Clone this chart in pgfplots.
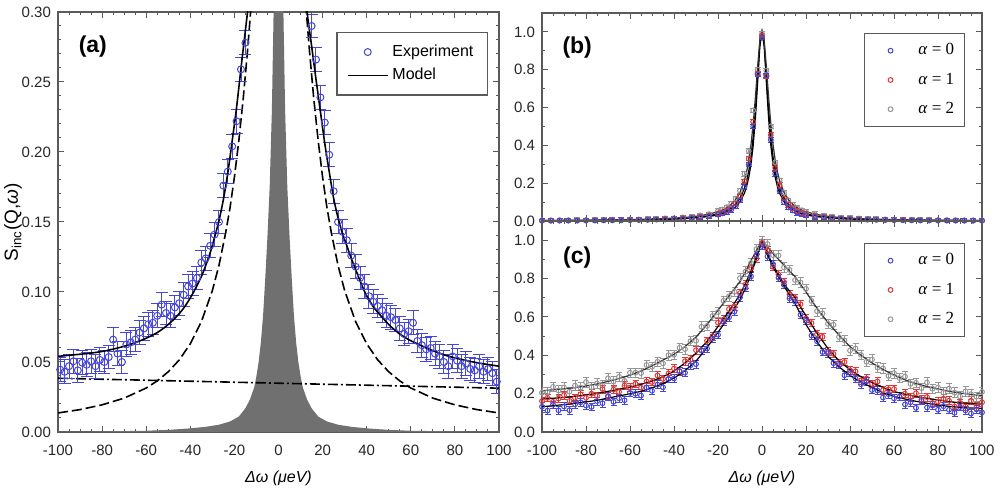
\documentclass[border=0pt]{standalone}
\usepackage{fontspec}
\setmainfont{Liberation Sans}
\newfontfamily\seriffont{Liberation Serif}
\usepackage{pgfplots}
\pgfplotsset{compat=1.18}
\usepackage{pgfplotstable}

\definecolor{expblue}{RGB}{70,70,215}
\definecolor{ared}{RGB}{225,55,55}
\definecolor{agray}{RGB}{150,150,150}
\definecolor{resgray}{RGB}{112,112,112}
\definecolor{framegray}{RGB}{90,90,90}

\pgfplotsset{
  myaxis/.style={
    scale only axis,
    axis line style={framegray, line width=0.7pt},
    every tick/.style={framegray, line width=0.5pt},
    major tick length=3pt, minor tick length=1.6pt,
    tick align=inside,
    xmin=-100, xmax=100,
    xtick={-100,-80,-60,-40,-20,0,20,40,60,80,100},
    minor x tick num=3,
    tick label style={font=\fontsize{7.5}{9}\selectfont, text=black!85},
    /pgf/number format/assume math mode=true,
    xticklabel style={yshift=-2.8pt},
    clip=true,
  },
  smallmark/.style={
    legend image code/.code={\draw[##1, draw=none] (0cm,0cm) -- (0.77cm,0cm);
      \draw[##1, only marks] plot coordinates {(0.35cm,0cm)};}
  },
  bigmark/.style={
    legend image code/.code={\draw[##1, draw=none] (0cm,0cm) -- (0.7cm,0cm);
      \draw[##1, only marks] plot coordinates {(0.35cm,0cm)};}
  },
  linelegend/.style={
    legend image code/.code={\draw[##1] (0cm,0cm) -- (0.7cm,0cm);}
  }
}

% ---------- panel (a) ----------
\pgfplotstableread{
x y
-99 0.0445
-97 0.0430
-95 0.0470
-93 0.0505
-91 0.0440
-89 0.0495
-87 0.0480
-85 0.0505
-83 0.0470
-81 0.0515
-79 0.0500
-77 0.0535
-75 0.0660
-73 0.0560
-71 0.0500
-69 0.0625
-67 0.0640
-65 0.0660
-63 0.0710
-61 0.0740
-59 0.0770
-57 0.0780
-55 0.0830
-53 0.0910
-51 0.0850
-49 0.0830
-47 0.0890
-45 0.0920
-43 0.0980
-41 0.1040
-39 0.1060
-37 0.1100
-35 0.1210
-33 0.1240
-31 0.1330
-29 0.1410
-27 0.1500
-25 0.1760
-23 0.1860
-21 0.2040
-19 0.2220
-17 0.2590
-15 0.2780
15 0.290
17 0.266
19 0.239
21 0.221
23 0.198
25 0.172
27 0.150
29 0.143
31 0.137
33 0.126
35 0.118
37 0.110
39 0.104
41 0.097
43 0.093
45 0.090
47 0.087
49 0.083
51 0.082
53 0.080
55 0.074
57 0.070
59 0.072
61 0.078
63 0.065
65 0.062
67 0.059
69 0.060
71 0.056
73 0.054
75 0.050
77 0.047
79 0.054
81 0.051
83 0.047
85 0.049
87 0.045
89 0.044
91 0.047
93 0.043
95 0.045
97 0.042
99 0.036
}\expdata

\pgfplotstableread{
x y
-100 0.0002
-80 0.0004
-60 0.0009
-50 0.0015
-40 0.0026
-33 0.0037
-27 0.0052
-22 0.0075
-18 0.011
-15 0.017
-13 0.023
-11 0.032
-10 0.040
-9 0.050
-8 0.064
-7 0.083
-6 0.110
-5 0.140
-4 0.175
-3 0.230
-2 0.320
-1 0.600
0 1.200
1 0.600
2 0.320
3 0.230
4 0.175
5 0.140
6 0.110
7 0.083
8 0.064
9 0.050
10 0.040
11 0.032
13 0.023
15 0.017
18 0.011
22 0.0075
27 0.0052
33 0.0037
40 0.0026
50 0.0015
60 0.0009
80 0.0004
100 0.0002
}\resdata

% ---------- panel (b) ----------
\pgfplotstableread{
x d0 d1 d2
-100 0.0015 0.0028 0.0035
-96 0.0024 0.0018 0.0024
-92 0.0018 0.0030 0.0040
-88 0.0028 0.0024 0.0031
-84 0.0020 0.0035 0.0045
-80 0.0033 0.0030 0.0038
-76 0.0026 0.0042 0.0055
-72 0.0040 0.0036 0.0047
-68 0.0033 0.0050 0.0066
-64 0.0048 0.0046 0.0060
-60 0.0042 0.0065 0.0082
-56 0.0060 0.0060 0.0078
-52 0.0058 0.0082 0.0105
-48 0.0078 0.0080 0.0104
-44 0.0080 0.0108 0.0140
-40 0.0105 0.0112 0.0145
-36 0.0115 0.0150 0.0190
-32 0.0158 0.0160 0.0210
-28 0.0180 0.0235 0.0295
-24 0.0250 0.0270 0.0360
-20 0.034 0.040 0.052
-18 0.040 0.046 0.060
-16 0.048 0.057 0.073
-14 0.060 0.071 0.091
-12 0.078 0.092 0.118
-10 0.110 0.130 0.160
-8 0.180 0.210 0.250
-6 0.300 0.330 0.370
-4 0.500 0.525 0.585
-2 0.775 0.780 0.800
0 0.970 0.980 0.990
2 0.770 0.765 0.795
4 0.430 0.455 0.500
6 0.250 0.280 0.310
8 0.160 0.190 0.215
10 0.100 0.120 0.150
12 0.072 0.086 0.110
14 0.056 0.068 0.086
16 0.044 0.054 0.069
18 0.036 0.043 0.057
20 0.030 0.037 0.048
24 0.0225 0.0275 0.0365
28 0.0185 0.0215 0.0275
32 0.0140 0.0172 0.0222
36 0.0118 0.0135 0.0178
40 0.0095 0.0122 0.0150
44 0.0084 0.0098 0.0132
48 0.0070 0.0089 0.0110
52 0.0062 0.0073 0.0099
56 0.0053 0.0068 0.0083
60 0.0047 0.0056 0.0076
64 0.0041 0.0053 0.0064
68 0.0037 0.0043 0.0060
72 0.0032 0.0042 0.0050
76 0.0030 0.0035 0.0048
80 0.0026 0.0034 0.0041
84 0.0025 0.0029 0.0040
88 0.0022 0.0028 0.0034
92 0.0020 0.0025 0.0034
96 0.0019 0.0024 0.0029
100 0.0017 0.0021 0.0029
}\bdata

\pgfplotstableread{
x m0 m1 m2
-100 0.0018 0.0022 0.0028
-96 0.0020 0.0024 0.0030
-92 0.0021 0.0026 0.0033
-88 0.0023 0.0028 0.0036
-84 0.0026 0.0030 0.0039
-80 0.0028 0.0033 0.0043
-76 0.0031 0.0037 0.0047
-72 0.0034 0.0041 0.0052
-68 0.0038 0.0045 0.0058
-64 0.0043 0.0051 0.0066
-60 0.0048 0.0058 0.0074
-56 0.0055 0.0066 0.0085
-52 0.0063 0.0075 0.0097
-48 0.0073 0.0087 0.0112
-44 0.0085 0.0100 0.0130
-40 0.0100 0.0120 0.0153
-36 0.0120 0.0140 0.0180
-32 0.0150 0.0170 0.0220
-28 0.0190 0.0220 0.0280
-24 0.0240 0.0280 0.0370
-20 0.032 0.038 0.049
-18 0.038 0.044 0.058
-16 0.046 0.055 0.070
-14 0.058 0.069 0.088
-12 0.075 0.088 0.113
-10 0.102 0.120 0.151
-8 0.147 0.172 0.214
-7 0.182 0.212 0.260
-6 0.231 0.266 0.322
-5 0.301 0.341 0.405
-4 0.400 0.446 0.515
-3 0.542 0.588 0.655
-2 0.729 0.766 0.815
-1 0.921 0.937 0.956
0 1.000 1.000 1.000
1 0.921 0.937 0.956
2 0.729 0.766 0.815
3 0.542 0.588 0.655
4 0.400 0.446 0.515
5 0.301 0.341 0.405
6 0.231 0.266 0.322
7 0.182 0.212 0.260
8 0.147 0.172 0.214
10 0.102 0.120 0.151
12 0.075 0.088 0.113
14 0.058 0.069 0.088
16 0.046 0.055 0.070
18 0.038 0.044 0.058
20 0.032 0.038 0.049
24 0.0240 0.0280 0.0370
28 0.0190 0.0220 0.0280
32 0.0150 0.0170 0.0220
36 0.0120 0.0140 0.0180
40 0.0100 0.0120 0.0153
44 0.0085 0.0100 0.0130
48 0.0073 0.0087 0.0112
52 0.0063 0.0075 0.0097
56 0.0055 0.0066 0.0085
60 0.0048 0.0058 0.0074
64 0.0043 0.0051 0.0066
68 0.0038 0.0045 0.0058
72 0.0034 0.0041 0.0052
76 0.0031 0.0037 0.0047
80 0.0028 0.0033 0.0043
84 0.0026 0.0030 0.0039
88 0.0023 0.0028 0.0036
92 0.0021 0.0026 0.0033
96 0.0020 0.0024 0.0030
100 0.0018 0.0022 0.0028
}\bmodel

% ---------- panel (c) ----------
\pgfplotstableread{
x m0 d0 m1 d1 m2 d2
-100 0.132 0.132 0.172 0.161 0.215 0.205
-97.5 0.1345 0.1115 0.174 0.178 0.2175 0.2075
-95 0.137 0.142 0.176 0.157 0.220 0.235
-92.5 0.140 0.113 0.178 0.174 0.2225 0.2165
-90 0.143 0.133 0.180 0.192 0.225 0.232
-87.5 0.1465 0.1135 0.183 0.162 0.228 0.210
-85 0.150 0.144 0.186 0.178 0.231 0.242
-82.5 0.1535 0.1545 0.1895 0.1965 0.2355 0.2315
-80 0.157 0.138 0.193 0.178 0.240 0.260
-77.5 0.161 0.131 0.197 0.200 0.245 0.233
-75 0.165 0.161 0.201 0.189 0.250 0.253
-72.5 0.171 0.150 0.2065 0.2235 0.257 0.242
-70 0.177 0.184 0.212 0.188 0.264 0.280
-67.5 0.1825 0.1575 0.217 0.221 0.2715 0.2635
-65 0.188 0.176 0.222 0.209 0.279 0.288
-62.5 0.1935 0.1655 0.228 0.242 0.2875 0.2665
-60 0.199 0.204 0.234 0.232 0.296 0.309
-57.5 0.2055 0.1995 0.241 0.251 0.307 0.309
-55 0.212 0.190 0.248 0.231 0.318 0.307
-52.5 0.221 0.231 0.257 0.263 0.3315 0.3495
-50 0.230 0.215 0.266 0.261 0.345 0.340
-47.5 0.241 0.247 0.277 0.295 0.360 0.366
-45 0.252 0.233 0.288 0.277 0.375 0.358
-42.5 0.267 0.277 0.303 0.305 0.390 0.400
-40 0.282 0.279 0.318 0.331 0.405 0.403
-37.5 0.300 0.317 0.339 0.318 0.425 0.439
-35 0.320 0.309 0.360 0.369 0.445 0.432
-32.5 0.344 0.348 0.385 0.377 0.470 0.474
-30 0.370 0.354 0.410 0.426 0.495 0.476
-27.5 0.404 0.425 0.441 0.426 0.527 0.549
-25 0.440 0.435 0.472 0.475 0.560 0.553
-22.5 0.480 0.488 0.511 0.499 0.597 0.605
-20 0.520 0.507 0.550 0.570 0.635 0.625
-17.5 0.560 0.574 0.590 0.586 0.672 0.684
-15 0.600 0.598 0.630 0.641 0.710 0.707
-12.5 0.645 0.628 0.673 0.655 0.747 0.731
-10 0.690 0.702 0.717 0.724 0.785 0.802
-7.5 0.750 0.751 0.775 0.769 0.835 0.836
-5 0.820 0.811 0.840 0.855 0.895 0.881
-2.5 0.905 0.924 0.915 0.905 0.945 0.954
0 1.000 0.970 1.000 0.985 1.000 0.994
2.5 0.925 0.915 0.930 0.949 0.965 0.980
5 0.860 0.875 0.870 0.861 0.930 0.922
7.5 0.810 0.804 0.820 0.821 0.900 0.920
10 0.760 0.767 0.770 0.782 0.870 0.858
12.5 0.715 0.697 0.735 0.718 0.840 0.845
15 0.670 0.681 0.700 0.698 0.810 0.792
17.5 0.615 0.611 0.652 0.666 0.770 0.779
20 0.560 0.580 0.605 0.592 0.730 0.746
22.5 0.515 0.503 0.560 0.568 0.687 0.683
25 0.470 0.473 0.515 0.510 0.645 0.630
27.5 0.432 0.417 0.475 0.496 0.607 0.618
30 0.395 0.411 0.435 0.419 0.570 0.564
32.5 0.367 0.359 0.403 0.407 0.537 0.559
35 0.340 0.349 0.372 0.361 0.505 0.495
37.5 0.317 0.296 0.348 0.365 0.475 0.478
40 0.295 0.308 0.325 0.322 0.445 0.425
42.5 0.277 0.279 0.306 0.316 0.422 0.435
45 0.260 0.249 0.288 0.269 0.400 0.402
47.5 0.246 0.264 0.273 0.279 0.380 0.366
50 0.232 0.219 0.258 0.251 0.360 0.378
52.5 0.218 0.216 0.245 0.263 0.343 0.336
55 0.205 0.180 0.232 0.218 0.326 0.332
57.5 0.195 0.197 0.221 0.223 0.3115 0.2925
60 0.185 0.175 0.211 0.224 0.297 0.307
62.5 0.1785 0.1845 0.204 0.184 0.2845 0.2815
65 0.172 0.144 0.197 0.200 0.272 0.289
67.5 0.166 0.155 0.191 0.181 0.262 0.251
70 0.160 0.126 0.185 0.202 0.252 0.256
72.5 0.155 0.162 0.1805 0.1695 0.2445 0.2285
75 0.150 0.128 0.176 0.182 0.237 0.258
77.5 0.1455 0.1385 0.1715 0.1515 0.2305 0.2255
80 0.141 0.116 0.167 0.158 0.224 0.232
82.5 0.1375 0.1345 0.163 0.174 0.218 0.205
85 0.134 0.116 0.159 0.163 0.212 0.226
87.5 0.131 0.100 0.1555 0.1325 0.2075 0.2055
90 0.128 0.130 0.152 0.152 0.203 0.186
92.5 0.1265 0.1125 0.150 0.133 0.1995 0.2115
95 0.125 0.096 0.148 0.163 0.196 0.197
97.5 0.124 0.118 0.1465 0.1335 0.193 0.184
100 0.123 0.102 0.145 0.155 0.190 0.209
}\cdata

\begin{document}
\begin{tikzpicture}
\useasboundingbox (0,0) rectangle (500pt,246pt);

% ================= (a) =================
\begin{axis}[myaxis,
  at={(29pt,30pt)}, anchor=south west,
  width=220.5pt, height=210pt,
  ymin=0, ymax=0.30,
  ytick={0,0.05,0.10,0.15,0.20,0.25,0.30},
  minor y tick num=4,
  yticklabel style={/pgf/number format/.cd, fixed, fixed zerofill, precision=2},
  xlabel={\textit{Δω (μeV)}},
  xlabel style={font=\fontsize{8}{9}\selectfont, at={(axis description cs:0.5,-0.1095)}, anchor=center},
  ylabel={S\textsubscript{inc}(Q,\textit{ω})},
  ylabel style={font=\fontsize{9.5}{11}\selectfont, at={(axis description cs:-0.102,0.5)}, anchor=center},
  legend style={at={(axis description cs:0.975,0.952)}, anchor=north east,
    draw=framegray, line width=0.6pt, font=\fontsize{8}{9.5}\selectfont,
    inner xsep=5pt, inner ysep=4pt, row sep=0.5pt,
    cells={anchor=west, inner ysep=1pt}},
]
\addplot[fill=resgray, draw=none, forget plot] table[x=x,y=y] {\resdata} \closedcycle;
\addplot[black, line width=0.8pt, dash pattern=on 5pt off 1.5pt on 1pt off 1.5pt, forget plot]
  coordinates {(-100,0.0384) (100,0.0313)};
\addplot[black, line width=0.8pt, dash pattern=on 5pt off 2pt, forget plot] coordinates {
(-100,0.0136) (-90,0.0160) (-80,0.0194) (-70,0.0242) (-60,0.0314) (-55,0.0365) (-50,0.0430)
(-45,0.0515) (-40,0.0630) (-35,0.0787) (-30,0.1010) (-27,0.1190) (-24,0.1420) (-22,0.1600)
(-20,0.1820) (-18,0.2080) (-16,0.2380) (-14,0.2730) (-13,0.2930) (-12,0.3140) (-11,0.3360)};
\addplot[black, line width=0.8pt, dash pattern=on 5pt off 2pt, forget plot] coordinates {
(11,0.3360) (12,0.3140) (13,0.2930) (14,0.2730) (16,0.2380) (18,0.2080) (20,0.1820) (22,0.1600)
(24,0.1420) (27,0.1190) (30,0.1010) (35,0.0787) (40,0.0630) (45,0.0515) (50,0.0430)
(55,0.0365) (60,0.0314) (70,0.0242) (80,0.0194) (90,0.0160) (100,0.0136)};
\addplot[only marks, mark=o, mark size=1.75pt, expblue, mark options={line width=0.5pt}, bigmark,
  error bars/.cd, y dir=both, y fixed=0.0085,
  error bar style={line width=0.5pt, expblue},
  error mark options={rotate=90, mark size=3pt, line width=0.5pt, expblue}]
  table[x=x,y=y] {\expdata};
\addlegendentry{Experiment}
\addplot[black, line width=0.8pt, smooth, linelegend] coordinates {
(-100,0.0540) (-97,0.0545) (-95,0.0548) (-91,0.0554) (-87,0.0560) (-83,0.0568) (-79,0.0578)
(-75,0.0592) (-71,0.0608) (-67,0.0627) (-63,0.0650) (-59,0.0677) (-55,0.0710) (-51,0.0755)
(-47,0.0812) (-43,0.0885) (-39,0.0985) (-35,0.1110) (-33,0.1190) (-31,0.1280) (-29,0.1390)
(-27,0.1510) (-25,0.1660) (-23,0.1850) (-21,0.2080) (-19,0.2320) (-17,0.2600) (-15,0.2870)
(-13,0.3150) (-11,0.3500)};
\addlegendentry{Model}
\addplot[black, line width=0.8pt, smooth, forget plot] coordinates {
(11,0.340) (13,0.300) (15,0.276) (17,0.252) (19,0.229) (21,0.206) (23,0.186) (25,0.167)
(27,0.153) (29,0.142) (31,0.133) (33,0.124) (35,0.116) (37,0.108) (39,0.1005) (41,0.0945)
(43,0.0895) (45,0.0855) (47,0.0820) (49,0.0785) (51,0.0752) (55,0.0700) (59,0.0660)
(63,0.0630) (67,0.0600) (71,0.0575) (75,0.0552) (79,0.0533) (83,0.0518) (87,0.0504)
(91,0.0492) (95,0.0482) (100,0.0470)};
\node[font=\bfseries\fontsize{11.5}{12}\selectfont] at (axis description cs:0.079,0.917) {(a)};
\end{axis}

% ================= (b) =================
\begin{axis}[myaxis,
  at={(271pt,135.5pt)}, anchor=south west,
  width=220pt, height=104pt,
  ymin=0, ymax=1.1,
  ytick={0,0.2,0.4,0.6,0.8,1.0},
  minor y tick num=1,
  yticklabel style={/pgf/number format/.cd, fixed, fixed zerofill, precision=1},
  xticklabels={},
  reverse legend,
  legend style={at={(axis description cs:0.961,0.904)}, anchor=north east,
    draw=framegray, line width=0.6pt, font=\seriffont\fontsize{8.5}{10}\selectfont,
    inner xsep=3pt, inner ysep=3pt, row sep=3.5pt,
    cells={anchor=west, inner ysep=1pt}},
]
\addplot[only marks, mark=o, mark size=1.2pt, agray, mark options={line width=0.5pt}, smallmark,
  error bars/.cd, y dir=both, y fixed=0.012,
  error bar style={line width=0.4pt, agray},
  error mark options={rotate=90, mark size=1.5pt, line width=0.4pt, agray}]
  table[x=x,y=d2] {\bdata};
\addlegendentry{\textit{α} = 2}
\addplot[only marks, mark=o, mark size=1.2pt, ared, mark options={line width=0.5pt}, smallmark,
  error bars/.cd, y dir=both, y fixed=0.012,
  error bar style={line width=0.4pt, ared},
  error mark options={rotate=90, mark size=1.5pt, line width=0.4pt, ared}]
  table[x=x,y=d1] {\bdata};
\addlegendentry{\textit{α} = 1}
\addplot[only marks, mark=o, mark size=1.2pt, expblue, mark options={line width=0.5pt}, smallmark,
  error bars/.cd, y dir=both, y fixed=0.012,
  error bar style={line width=0.4pt, expblue},
  error mark options={rotate=90, mark size=1.5pt, line width=0.4pt, expblue}]
  table[x=x,y=d0] {\bdata};
\addlegendentry{\textit{α} = 0}
\addplot[black, line width=0.6pt, forget plot] table[x=x,y=m0] {\bmodel};
\addplot[black, line width=0.6pt, forget plot] table[x=x,y=m1] {\bmodel};
\addplot[black!80, line width=0.6pt, forget plot] table[x=x,y=m2] {\bmodel};
\node[font=\bfseries\fontsize{11.5}{12}\selectfont] at (axis description cs:0.08,0.834) {(b)};
\end{axis}

% ================= (c) =================
\begin{axis}[myaxis,
  at={(271pt,30pt)}, anchor=south west,
  width=220pt, height=105.5pt,
  ymin=0, ymax=1.1,
  ytick={0,0.2,0.4,0.6,0.8,1.0},
  minor y tick num=1,
  yticklabel style={/pgf/number format/.cd, fixed, fixed zerofill, precision=1},
  xlabel={\textit{Δω (μeV)}},
  xlabel style={font=\fontsize{8}{9}\selectfont, at={(axis description cs:0.5,-0.218)}, anchor=center},
  reverse legend,
  legend style={at={(axis description cs:0.961,0.896)}, anchor=north east,
    draw=framegray, line width=0.6pt, font=\seriffont\fontsize{8.5}{10}\selectfont,
    inner xsep=3pt, inner ysep=3pt, row sep=3.5pt,
    cells={anchor=west, inner ysep=1pt}},
]
\addplot[only marks, mark=o, mark size=1.2pt, agray, mark options={line width=0.5pt}, smallmark,
  error bars/.cd, y dir=both, y fixed=0.025,
  error bar style={line width=0.4pt, agray},
  error mark options={rotate=90, mark size=1.5pt, line width=0.4pt, agray}]
  table[x=x,y=d2] {\cdata};
\addlegendentry{\textit{α} = 2}
\addplot[only marks, mark=o, mark size=1.2pt, ared, mark options={line width=0.5pt}, smallmark,
  error bars/.cd, y dir=both, y fixed=0.02,
  error bar style={line width=0.4pt, ared},
  error mark options={rotate=90, mark size=1.5pt, line width=0.4pt, ared}]
  table[x=x,y=d1] {\cdata};
\addlegendentry{\textit{α} = 1}
\addplot[only marks, mark=o, mark size=1.2pt, expblue, mark options={line width=0.5pt}, smallmark,
  error bars/.cd, y dir=both, y fixed=0.02,
  error bar style={line width=0.4pt, expblue},
  error mark options={rotate=90, mark size=1.5pt, line width=0.4pt, expblue}]
  table[x=x,y=d0] {\cdata};
\addlegendentry{\textit{α} = 0}
\addplot[black, line width=0.6pt, forget plot] table[x=x,y=m0] {\cdata};
\addplot[black, line width=0.6pt, forget plot] table[x=x,y=m1] {\cdata};
\addplot[black!80, line width=0.6pt, forget plot] table[x=x,y=m2] {\cdata};
\node[font=\bfseries\fontsize{11.5}{12}\selectfont] at (axis description cs:0.08,0.829) {(c)};
\end{axis}
\end{tikzpicture}
\end{document}
